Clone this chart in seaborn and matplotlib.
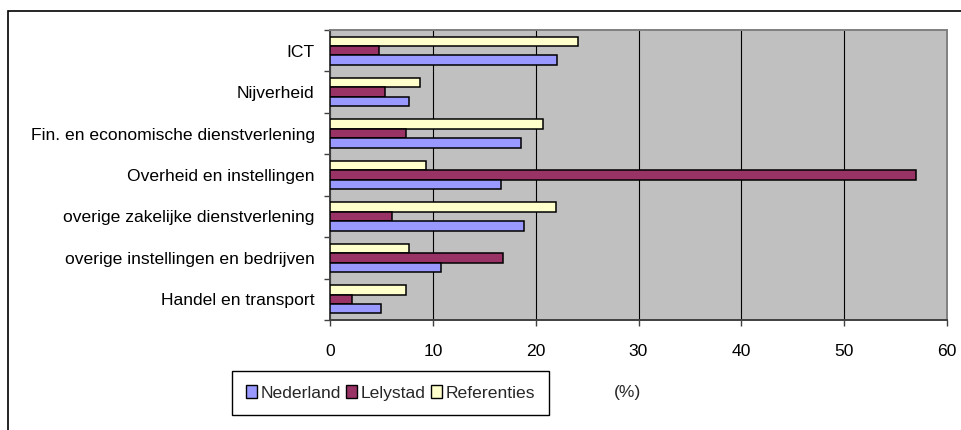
import matplotlib
matplotlib.use("Agg")
import matplotlib.pyplot as plt
import matplotlib.patches as mpatches
import numpy as np
import pandas as pd
import seaborn as sns

# Sector shares (%) per area
sectors = [
    "ICT",
    "Nijverheid",
    "Fin. en economische dienstverlening",
    "Overheid en instellingen",
    "overige zakelijke dienstverlening",
    "overige instellingen en bedrijven",
    "Handel en transport",
]
nederland = [22.1, 7.7, 18.6, 16.6, 18.9, 10.8, 5.0]
lelystad = [4.8, 5.3, 7.4, 57.0, 6.0, 16.8, 2.1]
referenties = [24.1, 8.8, 20.7, 9.3, 22.0, 7.7, 7.4]

series_names = ["Nederland", "Lelystad", "Referenties"]
colors = {"Nederland": "#9999FF", "Lelystad": "#993366", "Referenties": "#FFFFCC"}
x_ticks = [0, 10, 20, 30, 40, 50, 60]

df = pd.DataFrame({
    "sector": sectors * 3,
    "waarde": nederland + lelystad + referenties,
    "reeks": ["Nederland"] * 7 + ["Lelystad"] * 7 + ["Referenties"] * 7,
})

sns.set_theme(style="white")
plt.rcParams["font.family"] = ["Liberation Sans", "DejaVu Sans"]
FS = 12.6

fig = plt.figure(figsize=(9.61, 4.30), dpi=100)
ax = fig.add_axes([330 / 961, 110 / 430, 617 / 961, 290 / 430])
ax.set_facecolor("#C0C0C0")

sns.barplot(
    data=df, x="waarde", y="sector", hue="reeks",
    order=sectors, hue_order=["Referenties", "Lelystad", "Nederland"],
    palette=colors, width=0.68, edgecolor="black", linewidth=1.1,
    saturation=1, legend=False, ax=ax, zorder=3,
)

ax.set_xlim(0, 60)
ax.set_xticks(x_ticks)
ax.set_xticklabels([str(t) for t in x_ticks], fontsize=FS)
ax.set_xlabel("")
ax.set_ylabel("")
ax.xaxis.grid(True, color="black", linewidth=0.8, zorder=1)
ax.yaxis.grid(False)
ax.set_axisbelow(True)

# category labels centred, tick marks on the boundaries between groups
ax.tick_params(axis="y", which="major", length=0, pad=11, labelsize=FS, labelcolor="black")
ax.set_yticks(np.arange(-0.5, 7.0, 1.0), minor=True)
ax.tick_params(axis="y", which="minor", length=4, width=1.0, color="#404040", direction="out", left=True)
ax.tick_params(axis="x", which="major", length=4, width=1.0, color="#404040", direction="out",
               bottom=True, pad=13, labelcolor="black")

for side in ("top", "right"):
    ax.spines[side].set_color("#808080")
    ax.spines[side].set_linewidth(1.4)
for side in ("left", "bottom"):
    ax.spines[side].set_color("#404040")
    ax.spines[side].set_linewidth(1.4)

handles = [mpatches.Patch(facecolor=colors[n], edgecolor="black", linewidth=1.0, label=n)
           for n in series_names]
leg = fig.legend(
    handles=handles, ncol=3, loc="lower left",
    bbox_to_anchor=(232 / 961, 15 / 430), bbox_transform=fig.transFigure,
    borderaxespad=0, frameon=True, fancybox=False, framealpha=1,
    edgecolor="black", fontsize=FS, handlelength=0.62, handleheight=0.75,
    handletextpad=0.22, columnspacing=0.3, borderpad=0.8,
)
leg.get_frame().set_linewidth(1.0)

fig.text(628 / 961, 1 - 392 / 430, "(%)", ha="center", va="center", fontsize=FS)

# outer chart border (runs past the right and bottom edges)
fig.patches.append(mpatches.Rectangle(
    (8 / 961, -20 / 430), 1000 / 961, 439 / 430,
    transform=fig.transFigure, fill=False, edgecolor="black", linewidth=1.2))

fig.savefig("out.png", dpi=100, facecolor="white")
